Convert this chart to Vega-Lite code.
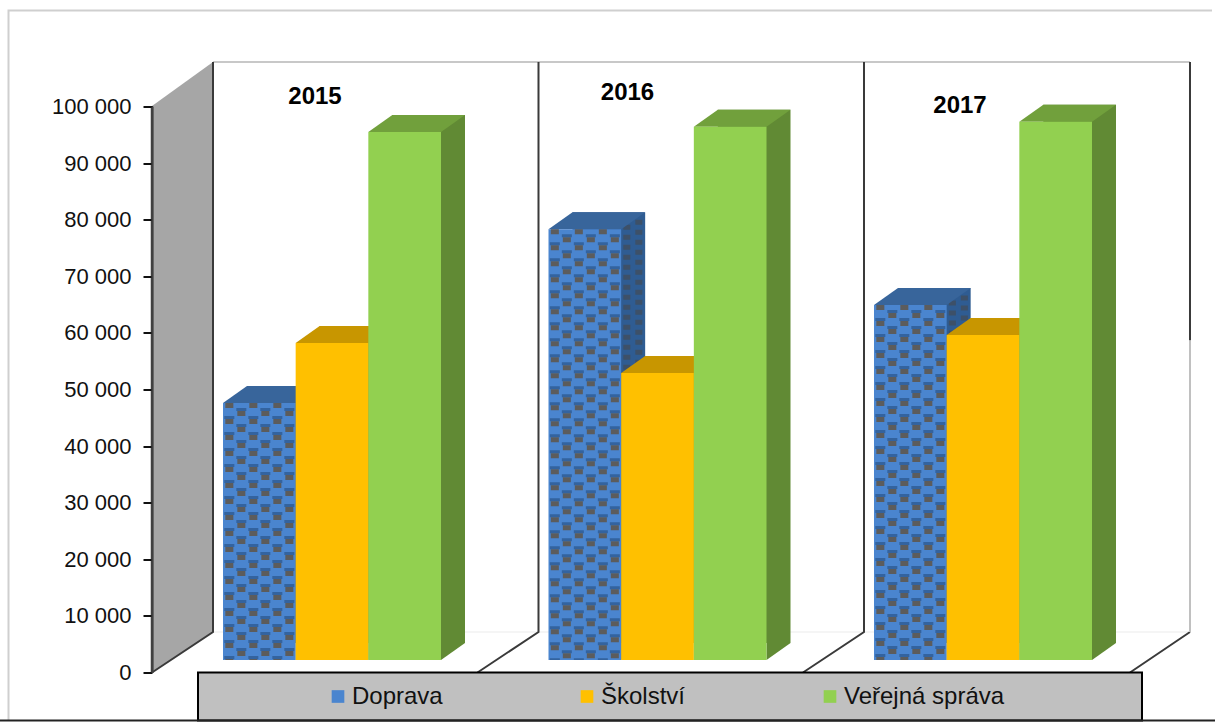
{
"$schema":"https://vega.github.io/schema/vega-lite/v6.json",
"width":1063,"height":566,"autosize":"none",
"padding":{"left":152,"top":106.5,"right":0,"bottom":49.5},
"background":"white",
"config":{"view":{"stroke":null},"font":"Liberation Sans"},
"data":{"values":[
{"rok":"2015","druh":"Doprava","hodnota":45400},
{"rok":"2015","druh":"Školství","hodnota":56000},
{"rok":"2015","druh":"Veřejná správa","hodnota":93300},
{"rok":"2016","druh":"Doprava","hodnota":76100},
{"rok":"2016","druh":"Školství","hodnota":50700},
{"rok":"2016","druh":"Veřejná správa","hodnota":94200},
{"rok":"2017","druh":"Doprava","hodnota":62700},
{"rok":"2017","druh":"Školství","hodnota":57400},
{"rok":"2017","druh":"Veřejná správa","hodnota":95100}
]},
"encoding":{
"x":{"field":"rok","type":"nominal","axis":null,"scale":{"type":"band","domain":["2015","2016","2017"],"range":[71,940],"paddingInner":0.33026,"paddingOuter":0}},
"y":{"field":"hodnota","type":"quantitative","scale":{"domain":[0,100000],"nice":false},"axis":{"title":null,"grid":false,"zindex":1,"values":[0,10000,20000,30000,40000,50000,60000,70000,80000,90000,100000],"labelExpr":"replace(format(datum.value, ','), ',', ' ')","labelFont":"Liberation Sans","labelFontSize":22,"labelColor":"#111","labelPadding":12,"tickSize":9,"tickColor":"#111","tickWidth":2,"domainColor":"#404040","domainWidth":2}}
},
"layer":[
{"transform":[{"filter":"datum.rok==='2015' && datum.druh==='Doprava'"}],"mark":{"type":"point","size":4,"opacity":1,"filled":false,"stroke":"#cfcfcf","strokeWidth":2,"shape":"M-214.5,48 L-214.5,-662 L989,-662"},"encoding":{"x":{"field":"rok","type":"nominal","bandPosition":0},"y":{"datum":0,"type":"quantitative"}}},
{"transform":[{"filter":"datum.rok==='2015' && datum.druh==='Doprava'"}],"mark":{"type":"point","size":4,"opacity":1,"filled":true,"fill":"#a6a6a6","strokeWidth":0,"shape":"M-71,0 L-10,-40.5 L-10,-610.5 L-71,-566.5 Z"},"encoding":{"x":{"field":"rok","type":"nominal","bandPosition":0},"y":{"datum":0,"type":"quantitative"}}},
{"transform":[{"filter":"datum.rok==='2015' && datum.druh==='Doprava'"}],"mark":{"type":"point","size":4,"opacity":1,"filled":false,"stroke":"#404040","strokeWidth":2.5,"shape":"M-71,0 L-71,-566.5"},"encoding":{"x":{"field":"rok","type":"nominal","bandPosition":0},"y":{"datum":0,"type":"quantitative"}}},
{"transform":[{"filter":"datum.rok==='2015' && datum.druh==='Doprava'"}],"mark":{"type":"point","size":4,"opacity":1,"filled":false,"stroke":"#c8c8c8","strokeWidth":2,"shape":"M-10,-610.5 L967,-610.5"},"encoding":{"x":{"field":"rok","type":"nominal","bandPosition":0},"y":{"datum":0,"type":"quantitative"}}},
{"transform":[{"filter":"datum.rok==='2015' && datum.druh==='Doprava'"}],"mark":{"type":"point","size":4,"opacity":1,"filled":false,"stroke":"#ebebeb","strokeWidth":1,"shape":"M-10,-40.5 L967,-40.5"},"encoding":{"x":{"field":"rok","type":"nominal","bandPosition":0},"y":{"datum":0,"type":"quantitative"}}},
{"transform":[{"filter":"datum.druh==='Doprava'"}],"mark":{"type":"point","size":4,"opacity":1,"filled":false,"stroke":"#3a3a3a","strokeWidth":2,"shape":"M-10,-610.5 L-10,-40.5 L-71,0"},"encoding":{"x":{"field":"rok","type":"nominal","bandPosition":0},"y":{"datum":0,"type":"quantitative"}}},
{"transform":[{"filter":"datum.rok==='2017' && datum.druh==='Doprava'"}],"mark":{"type":"point","size":4,"opacity":1,"filled":false,"stroke":"#3a3a3a","strokeWidth":2,"shape":"M316,-610.5 L316,-332 M316,-40.5 L256,0"},"encoding":{"x":{"field":"rok","type":"nominal","bandPosition":0},"y":{"datum":0,"type":"quantitative"}}},
{"transform":[{"filter":"datum.rok==='2017' && datum.druh==='Doprava'"}],"mark":{"type":"point","size":4,"opacity":1,"filled":false,"stroke":"#c0c0c0","strokeWidth":2,"shape":"M316,-332 L316,-40.5"},"encoding":{"x":{"field":"rok","type":"nominal","bandPosition":0},"y":{"datum":0,"type":"quantitative"}}},

{"mark":{"type":"bar","yOffset":-29.5,"y2Offset":-29.5},"encoding":{"xOffset":{"field":"druh","type":"nominal","scale":{"type":"band","domain":["Doprava","Školství","Veřejná správa"],"range":[24,242]}},"color":{"field":"druh","type":"nominal","legend":null,"scale":{"domain":["Doprava","Školství","Veřejná správa"],"range":["#2f5c92","#c89600","#618a34"]}}}},
{"mark":{"type":"point","size":4,"opacity":1,"filled":true,"strokeWidth":0,"shape":"M36.35,-12.5 L60.35,-29.5 L36.35,-29.5 Z"},"encoding":{"xOffset":{"field":"druh","type":"nominal","scale":{"type":"band","domain":["Doprava","Školství","Veřejná správa"],"range":[0,218]}},"y":{"datum":0,"type":"quantitative"},"color":{"field":"druh","type":"nominal","legend":null,"scale":{"domain":["Doprava","Školství","Veřejná správa"],"range":["#2f5c92","#c89600","#618a34"]}}}},

{"transform":[{"filter":"datum.druh==='Doprava'"}],"mark":{"type":"rule","yOffset":-27,"y2Offset":-20,"stroke":"#3d5068","strokeWidth":7,"strokeDash":[5,5]},"encoding":{"xOffset":{"field":"druh","type":"nominal","scale":{"type":"band","domain":["Doprava","Školství","Veřejná správa"],"range":[42,260]}},"y2":{"datum":0}}},
{"transform":[{"filter":"datum.druh==='Doprava'"}],"mark":{"type":"rule","yOffset":-27,"y2Offset":-28,"stroke":"#3d5068","strokeWidth":7,"strokeDash":[5,5],"strokeDashOffset":5},"encoding":{"xOffset":{"field":"druh","type":"nominal","scale":{"type":"band","domain":["Doprava","Školství","Veřejná správa"],"range":[54,272]}},"y2":{"datum":0}}},

{"mark":{"type":"point","size":4,"opacity":1,"filled":true,"strokeWidth":0,"shape":"M-36.35,-12.5 L-12.35,-29.5 L60.35,-29.5 L36.35,-12.5 Z"},"encoding":{"xOffset":{"field":"druh","type":"nominal","scale":{"type":"band","domain":["Doprava","Školství","Veřejná správa"],"range":[0,218]}},"color":{"field":"druh","type":"nominal","legend":null,"scale":{"domain":["Doprava","Školství","Veřejná správa"],"range":["#38659b","#c89600","#71a03c"]}}}},

{"mark":{"type":"bar","yOffset":-12.5,"y2Offset":-12.5},"encoding":{"xOffset":{"field":"druh","type":"nominal","scale":{"type":"band","domain":["Doprava","Školství","Veřejná správa"],"range":[0,218]}},"color":{"field":"druh","type":"nominal","scale":{"domain":["Doprava","Školství","Veřejná správa"],"range":["#4a85cf","#ffc000","#92d050"]},"legend":{"title":null,"orient":"none","direction":"horizontal","columns":3,"legendX":174,"legendY":578,"padding":0,"gridAlign":"none","columnPadding":132,"symbolType":"square","symbolSize":160,"symbolStrokeWidth":0,"symbolOpacity":1,"labelFont":"Liberation Sans","labelFontSize":24,"labelColor":"#111","labelOffset":2,"labelLimit":400}}}},

{"transform":[{"filter":"datum.druh==='Doprava'"}],"mark":{"type":"rule","yOffset":-12.5,"y2Offset":-12.5,"stroke":"#33639f","strokeWidth":10,"strokeDash":[3,13],"strokeDashOffset":3},"encoding":{"xOffset":{"field":"druh","type":"nominal","scale":{"type":"band","domain":["Doprava","Školství","Veřejná správa"],"range":[-30,188]}},"y2":{"datum":0}}},
{"transform":[{"filter":"datum.druh==='Doprava'"}],"mark":{"type":"rule","yOffset":-12.5,"y2Offset":-12.5,"stroke":"#33639f","strokeWidth":10,"strokeDash":[3,13],"strokeDashOffset":11},"encoding":{"xOffset":{"field":"druh","type":"nominal","scale":{"type":"band","domain":["Doprava","Školství","Veřejná správa"],"range":[-18,200]}},"y2":{"datum":0}}},
{"transform":[{"filter":"datum.druh==='Doprava'"}],"mark":{"type":"rule","yOffset":-12.5,"y2Offset":-12.5,"stroke":"#33639f","strokeWidth":10,"strokeDash":[3,13],"strokeDashOffset":3},"encoding":{"xOffset":{"field":"druh","type":"nominal","scale":{"type":"band","domain":["Doprava","Školství","Veřejná správa"],"range":[-6,212]}},"y2":{"datum":0}}},
{"transform":[{"filter":"datum.druh==='Doprava'"}],"mark":{"type":"rule","yOffset":-12.5,"y2Offset":-12.5,"stroke":"#33639f","strokeWidth":10,"strokeDash":[3,13],"strokeDashOffset":11},"encoding":{"xOffset":{"field":"druh","type":"nominal","scale":{"type":"band","domain":["Doprava","Školství","Veřejná správa"],"range":[6,224]}},"y2":{"datum":0}}},
{"transform":[{"filter":"datum.druh==='Doprava'"}],"mark":{"type":"rule","yOffset":-12.5,"y2Offset":-12.5,"stroke":"#33639f","strokeWidth":10,"strokeDash":[3,13],"strokeDashOffset":3},"encoding":{"xOffset":{"field":"druh","type":"nominal","scale":{"type":"band","domain":["Doprava","Školství","Veřejná správa"],"range":[18,236]}},"y2":{"datum":0}}},
{"transform":[{"filter":"datum.druh==='Doprava'"}],"mark":{"type":"rule","yOffset":-12.5,"y2Offset":-12.5,"stroke":"#33639f","strokeWidth":10,"strokeDash":[3,13],"strokeDashOffset":11},"encoding":{"xOffset":{"field":"druh","type":"nominal","scale":{"type":"band","domain":["Doprava","Školství","Veřejná správa"],"range":[30,248]}},"y2":{"datum":0}}},

{"transform":[{"filter":"datum.druh==='Doprava'"}],"mark":{"type":"rule","yOffset":-12.5,"y2Offset":-12.5,"stroke":"#5c5c5c","strokeWidth":8,"strokeDash":[5,11],"strokeDashOffset":0},"encoding":{"xOffset":{"field":"druh","type":"nominal","scale":{"type":"band","domain":["Doprava","Školství","Veřejná správa"],"range":[-30,188]}},"y2":{"datum":0}}},
{"transform":[{"filter":"datum.druh==='Doprava'"}],"mark":{"type":"rule","yOffset":-12.5,"y2Offset":-12.5,"stroke":"#5c5c5c","strokeWidth":8,"strokeDash":[5,11],"strokeDashOffset":8},"encoding":{"xOffset":{"field":"druh","type":"nominal","scale":{"type":"band","domain":["Doprava","Školství","Veřejná správa"],"range":[-18,200]}},"y2":{"datum":0}}},
{"transform":[{"filter":"datum.druh==='Doprava'"}],"mark":{"type":"rule","yOffset":-12.5,"y2Offset":-12.5,"stroke":"#5c5c5c","strokeWidth":8,"strokeDash":[5,11],"strokeDashOffset":0},"encoding":{"xOffset":{"field":"druh","type":"nominal","scale":{"type":"band","domain":["Doprava","Školství","Veřejná správa"],"range":[-6,212]}},"y2":{"datum":0}}},
{"transform":[{"filter":"datum.druh==='Doprava'"}],"mark":{"type":"rule","yOffset":-12.5,"y2Offset":-12.5,"stroke":"#5c5c5c","strokeWidth":8,"strokeDash":[5,11],"strokeDashOffset":8},"encoding":{"xOffset":{"field":"druh","type":"nominal","scale":{"type":"band","domain":["Doprava","Školství","Veřejná správa"],"range":[6,224]}},"y2":{"datum":0}}},
{"transform":[{"filter":"datum.druh==='Doprava'"}],"mark":{"type":"rule","yOffset":-12.5,"y2Offset":-12.5,"stroke":"#5c5c5c","strokeWidth":8,"strokeDash":[5,11],"strokeDashOffset":0},"encoding":{"xOffset":{"field":"druh","type":"nominal","scale":{"type":"band","domain":["Doprava","Školství","Veřejná správa"],"range":[18,236]}},"y2":{"datum":0}}},
{"transform":[{"filter":"datum.druh==='Doprava'"}],"mark":{"type":"rule","yOffset":-12.5,"y2Offset":-12.5,"stroke":"#5c5c5c","strokeWidth":8,"strokeDash":[5,11],"strokeDashOffset":8},"encoding":{"xOffset":{"field":"druh","type":"nominal","scale":{"type":"band","domain":["Doprava","Školství","Veřejná správa"],"range":[30,248]}},"y2":{"datum":0}}},

{"transform":[{"filter":"datum.rok==='2015' && datum.druh==='Doprava'"}],"mark":{"type":"point","size":4,"opacity":1,"filled":true,"fill":"#c0c0c0","stroke":"#000","strokeWidth":2,"shape":"M-25,0 L919,0 L919,48 L-25,48 Z"},"encoding":{"x":{"field":"rok","type":"nominal","bandPosition":0},"y":{"datum":0,"type":"quantitative"}}},
{"transform":[{"filter":"datum.rok==='2015' && datum.druh==='Doprava'"}],"mark":{"type":"point","size":4,"opacity":1,"filled":false,"stroke":"#222","strokeWidth":2,"shape":"M-223,48 L992,48"},"encoding":{"x":{"field":"rok","type":"nominal","bandPosition":0},"y":{"datum":0,"type":"quantitative"}}},

{"transform":[{"filter":"datum.rok==='2015' && datum.druh==='Doprava'"}],"mark":{"type":"text","font":"Liberation Sans","fontWeight":"bold","fontSize":24,"fill":"#000","xOffset":-17,"baseline":"middle"},"encoding":{"text":{"field":"rok"},"y":{"datum":101700,"type":"quantitative"}}},
{"transform":[{"filter":"datum.rok==='2016' && datum.druh==='Doprava'"}],"mark":{"type":"text","font":"Liberation Sans","fontWeight":"bold","fontSize":24,"fill":"#000","xOffset":-30,"baseline":"middle"},"encoding":{"text":{"field":"rok"},"y":{"datum":102400,"type":"quantitative"}}},
{"transform":[{"filter":"datum.rok==='2017' && datum.druh==='Doprava'"}],"mark":{"type":"text","font":"Liberation Sans","fontWeight":"bold","fontSize":24,"fill":"#000","xOffset":-23,"baseline":"middle"},"encoding":{"text":{"field":"rok"},"y":{"datum":100100,"type":"quantitative"}}}
],
"resolve":{"scale":{"color":"independent","xOffset":"independent"}}
}
